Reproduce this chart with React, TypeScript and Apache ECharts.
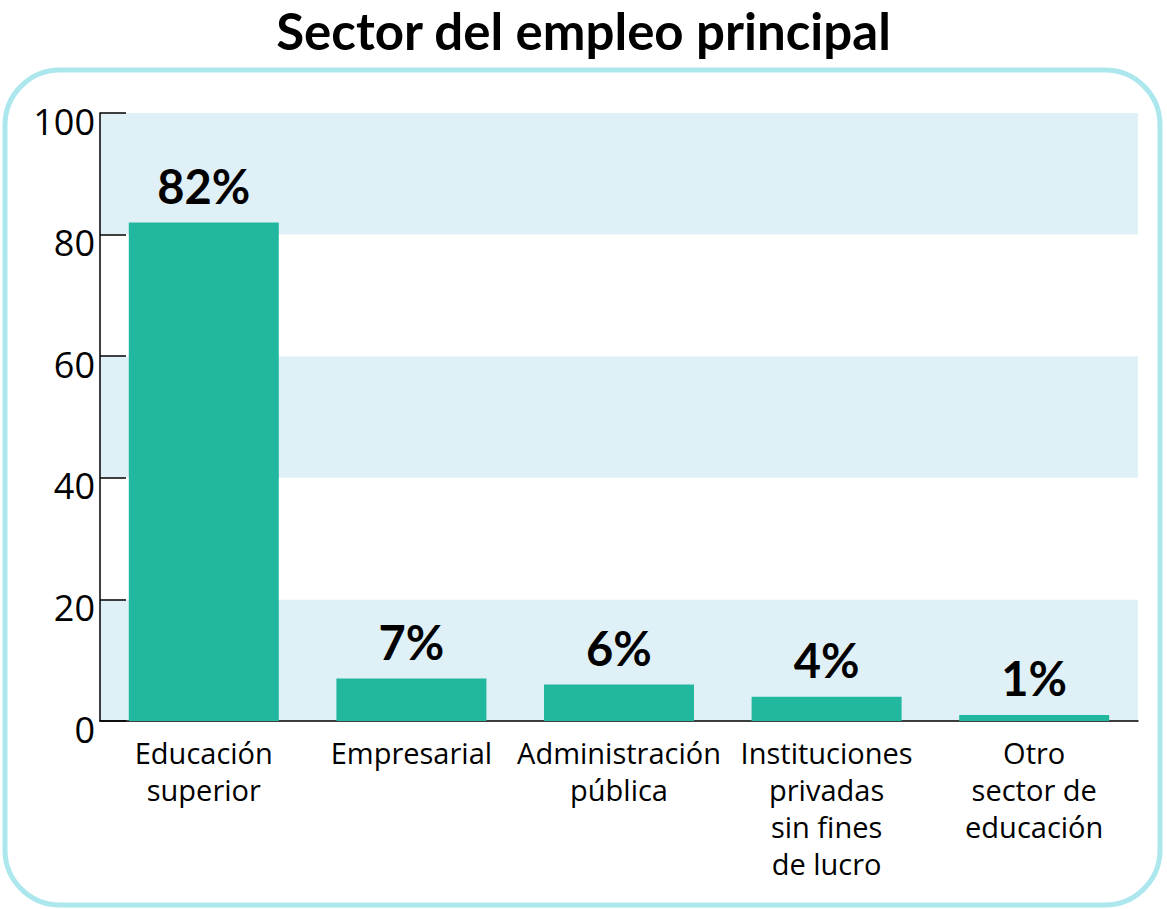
import React, { useEffect, useRef } from "react";
import * as echarts from "echarts";

const categories = [
  "Educación\nsuperior",
  "Empresarial",
  "Administración\npública",
  "Instituciones\nprivadas\nsin fines\nde lucro",
  "Otro\nsector de\neducación",
];
const values = [82, 7, 6, 4, 1];
const yTicks = [0, 20, 40, 60, 80, 100];

const FONT = '"Open Sans", sans-serif';

export default function App() {
  const ref = useRef<HTMLDivElement>(null);
  useEffect(() => {
    document.body.style.margin = "0";
    const chart = echarts.init(ref.current!, null, { renderer: "svg" });
    chart.setOption({
      animation: false,
      backgroundColor: "#ffffff",
      title: {
        text: "Sector del empleo principal",
        left: "center",
        top: 1,
        padding: 0,
        textStyle: {
          fontFamily: "Lato, sans-serif",
          fontWeight: "bold",
          fontSize: 51,
          lineHeight: 58,
          color: "#000",
        },
      },
      graphic: [
        {
          type: "rect",
          shape: { x: 5, y: 70, width: 1155, height: 835, r: 55 },
          style: { fill: "none", stroke: "#ade7ee", lineWidth: 5 },
          z: -1,
        },
      ],
      grid: { left: 100, right: 29, top: 113, bottom: 188 },
      xAxis: {
        type: "category",
        data: categories,
        axisLine: { lineStyle: { color: "#000", width: 1.5 } },
        axisTick: { inside: true, length: 15, lineStyle: { color: "#000", width: 1.5 } },
        axisLabel: {
          fontFamily: FONT,
          fontSize: 29,
          color: "#000",
          lineHeight: 37,
          margin: 13,
          interval: 0,
        },
      },
      yAxis: {
        type: "value",
        min: yTicks[0],
        max: yTicks[yTicks.length - 1],
        interval: 20,
        axisLine: { show: true, lineStyle: { color: "#000", width: 1.5 } },
        axisTick: { show: true, inside: true, length: 26, lineStyle: { color: "#000", width: 1.5 } },
        axisLabel: {
          fontFamily: FONT,
          fontSize: 36,
          color: "#000",
          margin: 5,
          verticalAlign: "top",
          lineHeight: 16,
        },
        splitLine: { show: false },
        splitArea: { show: true, areaStyle: { color: ["#dff1f6", "#ffffff"] } },
      },
      series: [
        {
          type: "bar",
          data: values,
          barWidth: 150,
          itemStyle: { color: "#22b8a0" },
          label: {
            show: true,
            position: "top",
            distance: 13,
            formatter: "{c}%",
            fontFamily: "Lato, sans-serif",
            fontWeight: "bold",
            fontSize: 47,
            color: "#000",
          },
        },
      ],
    });
    return () => chart.dispose();
  }, []);
  return <div ref={ref} style={{ width: 1167, height: 909 }} />;
}
